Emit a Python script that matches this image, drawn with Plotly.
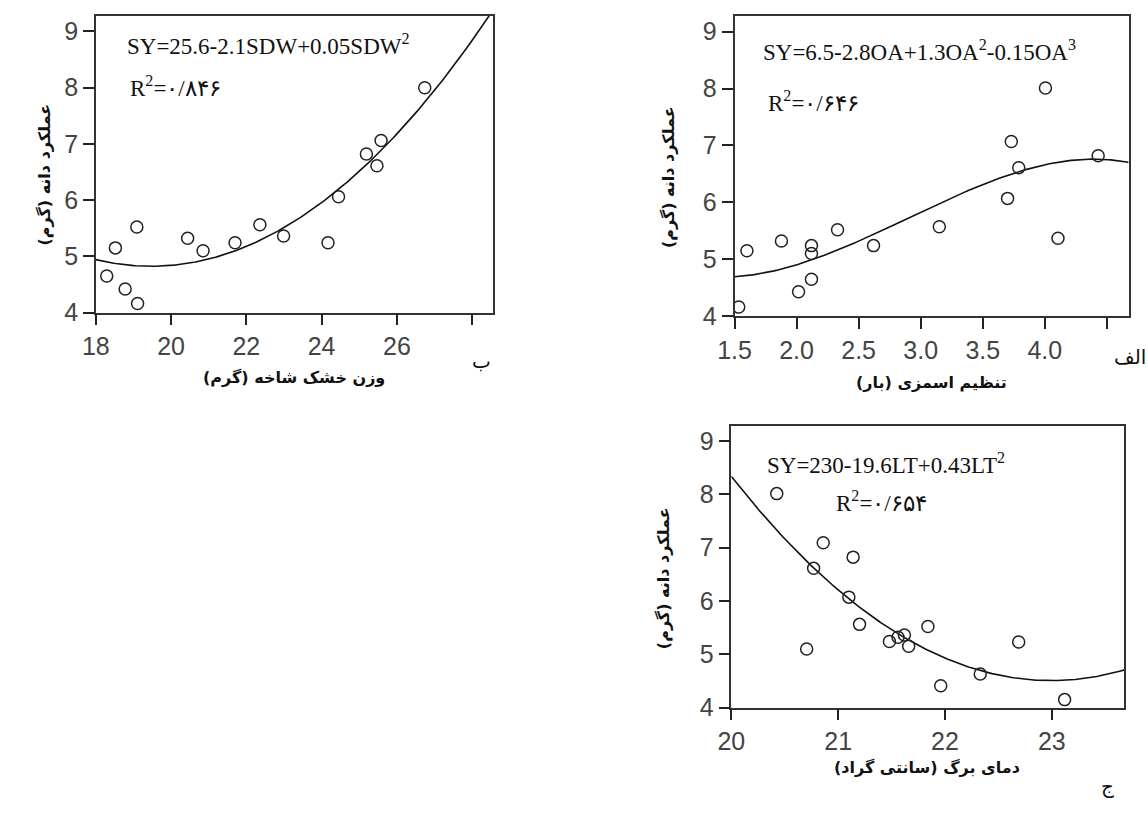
import numpy as np
import plotly.graph_objects as go

W, H = 1148, 814

# ---- data ----
# panel ب : shoot dry weight (g) vs seed yield (g)
sdw_x = [18.29, 18.52, 18.78, 19.11, 19.09, 20.44, 20.85, 21.70, 22.36, 22.99,
         24.17, 24.45, 25.19, 25.47, 25.58, 26.74]
sdw_y = [4.65, 5.15, 4.42, 4.16, 5.52, 5.32, 5.10, 5.24, 5.56, 5.36,
         5.24, 6.06, 6.82, 6.61, 7.06, 8.00]
# panel الف : osmotic adjustment (bar) vs seed yield
oa_x = [1.534, 1.60, 1.878, 2.016, 2.12, 2.12, 2.12, 2.33, 2.62, 3.15,
        3.70, 3.73, 3.79, 4.005, 4.106, 4.43]
oa_y = [4.16, 5.15, 5.32, 4.43, 5.24, 5.10, 4.65, 5.52, 5.24, 5.57,
        6.07, 7.07, 6.61, 8.01, 5.37, 6.82]
# panel ج : leaf temperature (C) vs seed yield
lt_x = [20.425, 20.705, 20.77, 20.86, 21.10, 21.14, 21.20, 21.48, 21.56, 21.62,
        21.66, 21.84, 21.96, 22.33, 22.69, 23.12]
lt_y = [8.01, 5.10, 6.61, 7.09, 6.07, 6.82, 5.56, 5.24, 5.32, 5.36,
        5.15, 5.52, 4.41, 4.63, 5.23, 4.15]

y_ticks = [4, 5, 6, 7, 8, 9]
sdw_ticks = [18, 20, 22, 24, 26, 28]
sdw_ticktext = ["18", "20", "22", "24", "26", ""]
oa_ticks = [1.5, 2.0, 2.5, 3.0, 3.5, 4.0, 4.5]
oa_ticktext = ["1.5", "2.0", "2.5", "3.0", "3.5", "4.0", ""]
lt_ticks = [20, 21, 22, 23]
lt_ticktext = ["20", "21", "22", "23"]

eq_sdw = "SY=25.6-2.1SDW+0.05SDW<sup>2</sup>"
r2_sdw = "R<sup>2</sup>=۰/۸۴۶"
eq_oa = "SY=6.5-2.8OA+1.3OA<sup>2</sup>-0.15OA<sup>3</sup>"
r2_oa = "R<sup>2</sup>=۰/۶۴۶"
eq_lt = "SY=230-19.6LT+0.43LT<sup>2</sup>"
r2_lt = "R<sup>2</sup>=۰/۶۵۴"

y_title = "عملکرد دانه (گرم)"
x_title_sdw = "وزن خشک شاخه (گرم)"
x_title_oa = "تنظیم اسمزی (بار)"
x_title_lt = "دمای برگ (سانتی گراد)"
lbl_sdw, lbl_oa, lbl_lt = "ب", "الف", "ج"

# ---- figure ----
def px(x):
    return x / W

def py(y):
    return 1 - y / H

panels = [
    ("x", sdw_x, sdw_y, 2, [18, 28.55], sdw_ticks, sdw_ticktext, (80, 483, 16, 318)),
    ("x2", oa_x, oa_y, 3, [1.5, 4.675], oa_ticks, oa_ticktext, (728.3, 1128.3, 16, 321.7)),
    ("x3", lt_x, lt_y, 2, [20, 23.68], lt_ticks, lt_ticktext, (725.1, 1124.1, 433.3, 720)),
]

fig = go.Figure()
layout = dict(width=W, height=H, margin=dict(l=0, r=0, t=0, b=0),
              paper_bgcolor="white", plot_bgcolor="white", showlegend=False)

axis_common = dict(showline=True, mirror=True, linecolor="#333", linewidth=1.5,
                   ticks="outside", ticklen=11, tickwidth=1.5, tickcolor="#222",
                   tickfont=dict(family="Liberation Sans, Arial", size=25, color="#444"),
                   showgrid=False, zeroline=False, fixedrange=True)

for i, (xa, xs, ys, deg, xr, tv, tt, dom) in enumerate(panels):
    suffix = "" if i == 0 else str(i + 1)
    ya = "y" + suffix
    coef = np.polyfit(xs, ys, deg)
    xx = np.linspace(xr[0], xr[1], 200)
    yy = np.polyval(coef, xx)
    fig.add_trace(go.Scatter(x=xx, y=yy, mode="lines", xaxis=xa, yaxis=ya,
                             line=dict(color="#111", width=1.6), hoverinfo="skip"))
    fig.add_trace(go.Scatter(x=xs, y=ys, mode="markers", xaxis=xa, yaxis=ya,
                             marker=dict(symbol="circle-open", size=12, color="#222",
                                         line=dict(color="#222", width=1.5))))
    x0, x1, y0, y1 = dom
    layout["xaxis" + suffix] = dict(axis_common, domain=[px(x0), px(x1)], range=xr,
                                    tickvals=tv, ticktext=tt, anchor=ya)
    layout["yaxis" + suffix] = dict(axis_common, domain=[py(y1), py(y0)], range=[4, 9.28],
                                    tickvals=y_ticks, anchor=xa)

serif = dict(family="Liberation Serif, Times New Roman", size=23, color="#111")

ann = []
def text(x, y, s, font, xanchor="left", angle=0):
    ann.append(dict(x=px(x), y=py(y), xref="paper", yref="paper", text=s,
                    showarrow=False, xanchor=xanchor, yanchor="middle",
                    font=font, textangle=angle))

text(110, 45, eq_sdw, serif)
text(113, 88, r2_sdw, serif)
text(755, 51, eq_oa, serif)
text(760, 103, r2_oa, serif)
text(759, 472, eq_lt, serif)
text(829, 510, r2_lt, serif)

bold_persian = dict(family="DejaVu Sans", size=16, color="#111")
text(28, 178, "<b>" + y_title + "</b>", bold_persian, "center", -90)
text(662, 180, "<b>" + y_title + "</b>", bold_persian, "center", -90)
text(657, 588, "<b>" + y_title + "</b>", bold_persian, "center", -90)
text(281, 384, "<b>" + x_title_sdw + "</b>", bold_persian, "center")
text(928, 389, "<b>" + x_title_oa + "</b>", bold_persian, "center")
text(924, 781, "<b>" + x_title_lt + "</b>", bold_persian, "center")

label_font = dict(family="DejaVu Sans", size=20, color="#111")
text(471, 367, lbl_sdw, label_font, "center")
text(1130, 363, lbl_oa, label_font, "center")
text(1107, 800, lbl_lt, label_font, "center")

layout["annotations"] = ann
fig.update_layout(**layout)
fig.write_html("out.html")
